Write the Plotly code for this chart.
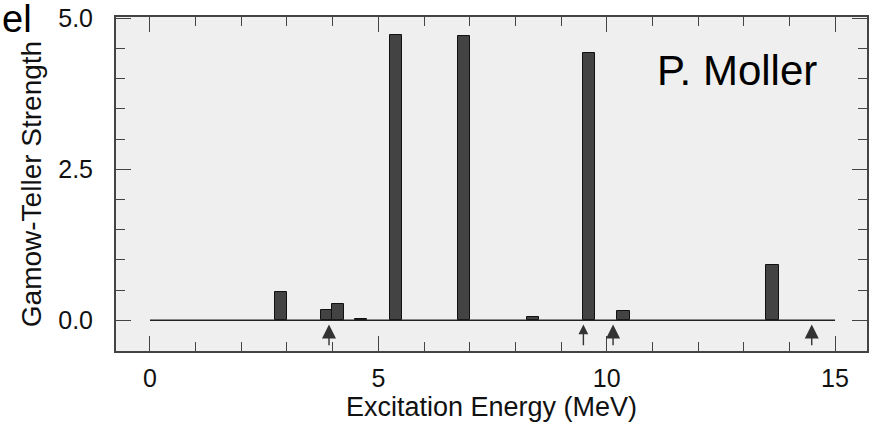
import plotly.graph_objects as go

# Data
energies = [2.87, 3.87, 4.12, 4.62, 5.38, 6.88, 8.38, 9.62, 10.37, 13.63]
strengths = [0.46, 0.17, 0.26, 0.02, 4.73, 4.71, 0.05, 4.43, 0.15, 0.92]
baseline_x = [0, 15]
baseline_y = [0, 0]
arrow_x = [3.92, 9.49, 10.14, 14.49]
arrow_big = [True, False, True, True]
x_ticks = [0, 5, 10, 15]
y_ticks = [0.0, 2.5, 5.0]

FONT = "Liberation Sans, Arial, Helvetica, sans-serif"

fig = go.Figure()
fig.add_trace(go.Scatter(x=baseline_x, y=baseline_y, mode="lines",
                         line=dict(color="#222222", width=1.6),
                         hoverinfo="skip", showlegend=False))
fig.add_trace(go.Bar(x=energies, y=strengths, width=0.27,
                     marker=dict(color="#434343", line=dict(color="#111111", width=1)),
                     showlegend=False))

for xv, big in zip(arrow_x, arrow_big):
    fig.add_annotation(x=xv, y=-0.07, ax=xv, ay=-0.44, xref="x", yref="y",
                       axref="x", ayref="y", text="", showarrow=True,
                       arrowhead=2, arrowsize=2.0 if big else 1.4,
                       arrowwidth=1.4, arrowcolor="#333333")

fig.add_annotation(x=(655 - 116) / 751, y=(351 - 70) / 334, xref="paper", yref="paper",
                   text="P. Moller", showarrow=False, xanchor="left", yanchor="middle",
                   font=dict(family=FONT, size=42, color="#000000"))
fig.add_annotation(x=-116 / 751, y=1 + 21 / 334, xref="paper", yref="paper", text="el",
                   showarrow=False, xanchor="left", yanchor="top",
                   font=dict(family=FONT, size=38, color="#000000"))

axis_common = dict(showgrid=False, zeroline=False, showline=True, linecolor="#444444",
                   linewidth=2, mirror="allticks", ticks="inside", tickcolor="#444444",
                   tickwidth=1.2, ticklen=15, automargin=False,
                   tickfont=dict(family=FONT, size=25, color="#111111"))

fig.update_layout(
    width=875, height=432,
    margin=dict(l=116, r=8, t=17, b=81),
    paper_bgcolor="#ffffff", plot_bgcolor="#efefef",
    bargap=0,
    xaxis=dict(range=[-0.744, 15.70], tickvals=x_ticks, ticktext=[str(v) for v in x_ticks],
               minor=dict(dtick=1, ticks="inside", ticklen=9, tickcolor="#444444", tickwidth=1.2),
               ticklabelstandoff=4,
               title=dict(text="Excitation Energy (MeV)", font=dict(family=FONT, size=27, color="#111111"), standoff=2),
               **axis_common),
    yaxis=dict(range=[-0.51, 5.02], tickvals=y_ticks, ticktext=["%.1f" % v for v in y_ticks],
               minor=dict(dtick=0.5, ticks="inside", ticklen=9, tickcolor="#444444", tickwidth=1.2),
               ticklabelstandoff=16,
               title=dict(text="Gamow-Teller Strength", font=dict(family=FONT, size=28, color="#111111"), standoff=8),
               **axis_common),
)

fig.write_html("out.html", config={"displayModeBar": False},
               post_script="document.body.style.margin='0';")
